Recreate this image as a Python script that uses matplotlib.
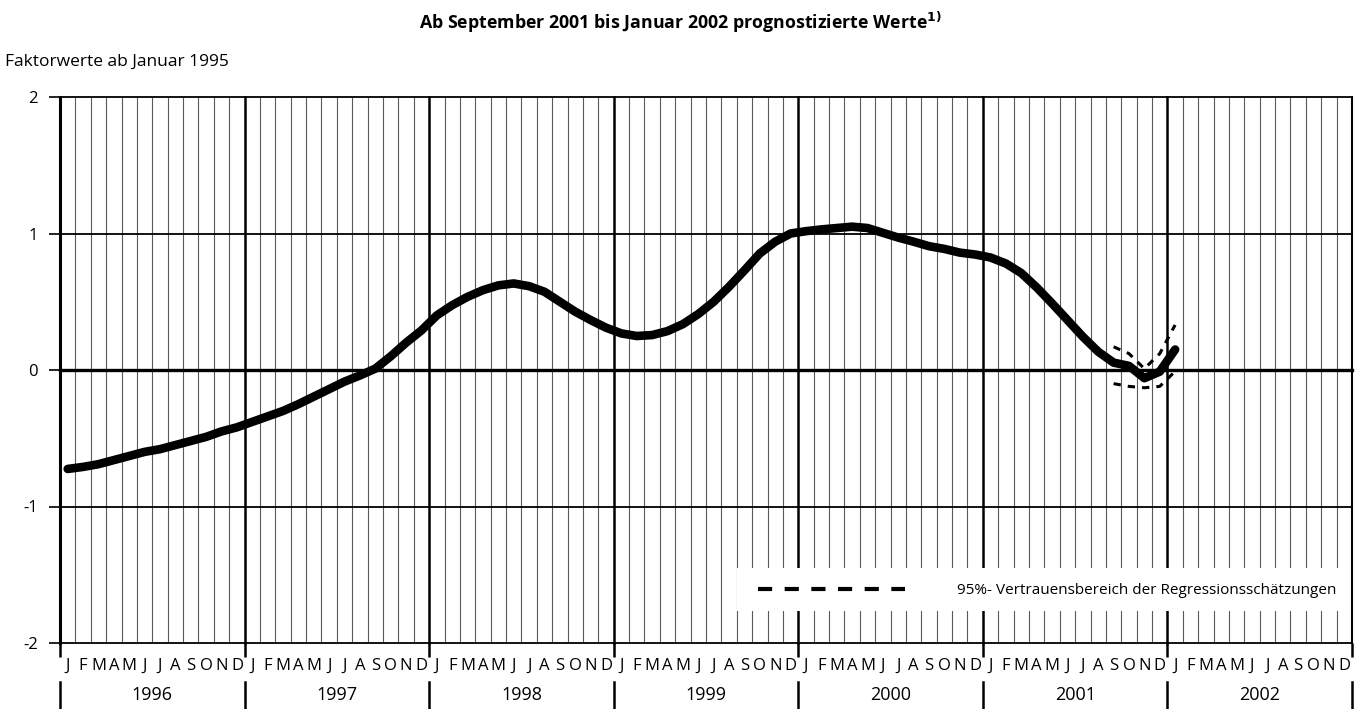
import matplotlib
matplotlib.use("Agg")
import matplotlib.pyplot as plt
from matplotlib.patches import Rectangle
from matplotlib.lines import Line2D
import matplotlib.transforms as mtransforms

plt.rcParams['font.family'] = ['Open Sans', 'DejaVu Sans']

# ---------------- data ----------------
years = ['1996', '1997', '1998', '1999', '2000', '2001', '2002']
month_letters = ['J', 'F', 'M', 'A', 'M', 'J', 'J', 'A', 'S', 'O', 'N', 'D']
y_ticks = [-2, -1, 0, 1, 2]

# factor values, monthly, Jan 1996 .. Jan 2002
values_1996 = [-0.725, -0.71, -0.69, -0.66, -0.63, -0.60, -0.58, -0.55, -0.52, -0.49, -0.45, -0.42]
values_1997 = [-0.38, -0.34, -0.30, -0.25, -0.195, -0.14, -0.085, -0.04, 0.01, 0.10, 0.20, 0.29]
values_1998 = [0.40, 0.475, 0.536, 0.585, 0.62, 0.634, 0.614, 0.573, 0.50, 0.427, 0.366, 0.31]
values_1999 = [0.268, 0.249, 0.256, 0.285, 0.336, 0.41, 0.50, 0.61, 0.73, 0.854, 0.94, 1.0]
values_2000 = [1.017, 1.03, 1.04, 1.05, 1.04, 1.005, 0.97, 0.94, 0.907, 0.887, 0.86, 0.846]
values_2001 = [0.824, 0.78, 0.71, 0.605, 0.488, 0.366, 0.244, 0.134, 0.054, 0.03, -0.06, -0.012]
values_2002 = [0.15]
values = values_1996 + values_1997 + values_1998 + values_1999 + values_2000 + values_2001 + values_2002

# 95% confidence band, Sep 2001 .. Jan 2002 (month index from Jan 1996)
band_start = 68
band_upper = [0.17, 0.12, 0.01, 0.12, 0.33]
band_lower = [-0.10, -0.12, -0.13, -0.12, -0.01]

title = 'Ab September 2001 bis Januar 2002 prognostizierte Werte$^{\\mathbf{1)}}$'
subtitle = 'Faktorwerte ab Januar 1995'
legend_label = '95%- Vertrauensbereich der Regressionsschätzungen'

# ---------------- figure ----------------
W, H = 1364, 709
fig = plt.figure(figsize=(W / 100, H / 100), dpi=100)
ax = fig.add_axes([60 / W, 1 - 643 / H, (1352 - 60) / W, (643 - 97) / H])

n_months = 12 * len(years)
ax.set_xlim(0, n_months)
ax.set_ylim(-2, 2)

# vertical grid: months (thin) and years (thick)
for m in range(n_months + 1):
    if m % 12 == 0 and m < n_months:
        ax.axvline(m, color='black', lw=1.8, zorder=1, clip_on=False)
    elif m == n_months:
        ax.axvline(m, color='black', lw=1.5, zorder=1, clip_on=False)
    else:
        ax.axvline(m, color='#5a5a5a', lw=0.8, zorder=1)

# horizontal lines
for yv in y_ticks:
    ax.axhline(yv, color='black', lw=2.4 if yv == 0 else 1.3, zorder=2, clip_on=False)

# legend box (white, covers grid)
ax.add_patch(Rectangle(((737 - 60) / 1292, (643 - 611) / 546), (1343 - 737) / 1292, (611 - 568) / 546,
                       transform=ax.transAxes, facecolor='white', edgecolor='none', zorder=3))
ax.add_line(Line2D([(758 - 60) / 1292, (905 - 60) / 1292], [(643 - 589) / 546] * 2,
                   transform=ax.transAxes, color='black', lw=3.0, dashes=(3.4, 3.0), zorder=4))
ax.text((1336 - 60) / 1292, (643 - 590) / 546, legend_label, transform=ax.transAxes,
        ha='right', va='center', fontsize=11, zorder=4)

# main curve at month centres
xs = [i + 0.5 for i in range(len(values))]
ax.plot(xs, values, color='black', lw=6.2, solid_capstyle='round', solid_joinstyle='round', zorder=6)

# confidence band
bx = [band_start + i + 0.5 for i in range(len(band_upper))]
ax.plot(bx, band_upper, color='black', lw=2.2, dashes=(2.4, 2.3), zorder=5)
ax.plot(bx, band_lower, color='black', lw=2.2, dashes=(2.4, 2.3), zorder=5)

# axes styling
for s in ax.spines.values():
    s.set_visible(False)
ax.set_yticks(y_ticks)
ax.set_yticklabels([str(v) for v in y_ticks], fontsize=12)
ax.tick_params(axis='y', length=8, width=1.2, pad=8, direction='out')
ax.set_xticks([12 * k for k in range(len(years) + 1)])
ax.set_xticklabels([])
ax.tick_params(axis='x', length=10, width=1.8, direction='out')
ax.axvline(0, color='black', lw=2.2, zorder=2, clip_on=False)

# month letters and years under the axis
tr = mtransforms.blended_transform_factory(ax.transData, ax.transAxes)
for k, yr in enumerate(years):
    for j, ml in enumerate(month_letters):
        ax.text(12 * k + j + 0.5, (643 - 666) / 546, ml, transform=tr,
                ha='center', va='center', fontsize=12)
    ax.text(12 * k + 6, (643 - 695) / 546, yr, transform=tr, ha='center', va='center', fontsize=13)
for k in range(len(years) + 1):
    ax.add_line(Line2D([12 * k, 12 * k], [(643 - 682) / 546, (643 - 708) / 546], transform=tr,
                       color='black', lw=1.8, clip_on=False))

fig.text(680 / W, 1 - 22 / H, title, ha='center', va='center', fontsize=12.8, fontweight='bold')
fig.text(5 / W, 1 - 62 / H, subtitle, ha='left', va='center', fontsize=12.5)

fig.savefig('out.png', dpi=100)
